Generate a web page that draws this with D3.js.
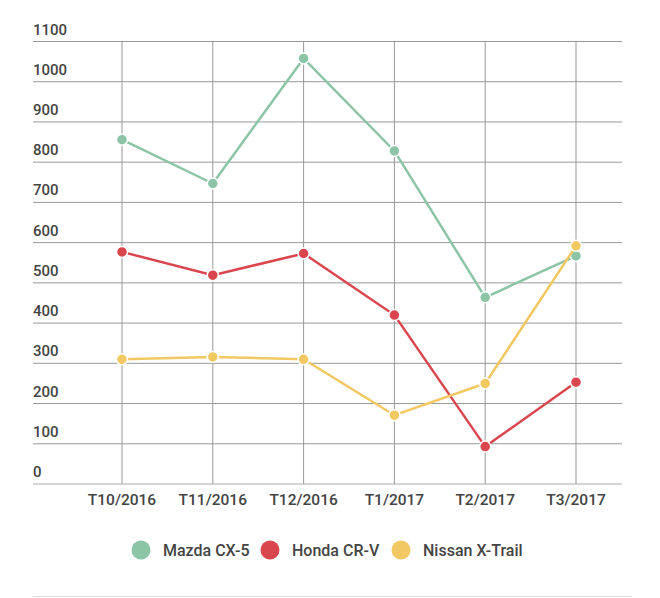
<!DOCTYPE html>
<html>
<head>
<meta charset="utf-8">
<script src="https://d3js.org/d3.v7.min.js"></script>
<style>
  body { margin: 0; background: #fff; }
  text { font-family: Roboto, "Noto Sans", sans-serif; }
</style>
</head>
<body>
<div id="chart"></div>
<script>
// data
var months = ["T10/2016", "T11/2016", "T12/2016", "T1/2017", "T2/2017", "T3/2017"];
var mazda = [856, 747, 1058, 828, 464, 567];
var honda = [577, 519, 573, 420, 93, 253];
var nissan = [310, 316, 310, 171, 250, 592];
var seriesNames = ["Mazda CX-5", "Honda CR-V", "Nissan X-Trail"];
var seriesColors = ["#8cc4a6", "#d9464e", "#f1c862"];
var yTicks = [0, 100, 200, 300, 400, 500, 600, 700, 800, 900, 1000, 1100];

var series = [mazda, honda, nissan];

var width = 660, height = 598;
var gridLeft = 33, gridRight = 622, gridTop = 41.5, gridBottom = 484;

var svg = d3.select("#chart")
  .append("svg")
  .attr("width", width)
  .attr("height", height);

var x = d3.scalePoint()
  .domain(months)
  .range([122, 576]);

var y = d3.scaleLinear()
  .domain([0, 1100])
  .range([gridBottom, gridTop]);

// horizontal grid + labels
svg.selectAll("line.h")
  .data(yTicks)
  .enter()
  .append("line")
  .attr("class", "h")
  .attr("x1", gridLeft)
  .attr("x2", gridRight)
  .attr("y1", function(d) { return y(d); })
  .attr("y2", function(d) { return y(d); })
  .attr("stroke", function(d) { return d === 0 ? "#aaa" : "#999"; })
  .attr("stroke-width", 1);

svg.selectAll("text.ylab")
  .data(yTicks)
  .enter()
  .append("text")
  .attr("class", "ylab")
  .attr("x", gridLeft)
  .attr("y", function(d) { return y(d) - 7; })
  .attr("font-size", 15)
  .attr("font-weight", 500)
  .attr("fill", "#444")
  .text(function(d) { return d; });

// vertical grid
svg.selectAll("line.v")
  .data(months)
  .enter()
  .append("line")
  .attr("class", "v")
  .attr("x1", function(d) { return x(d); })
  .attr("x2", function(d) { return x(d); })
  .attr("y1", gridTop)
  .attr("y2", gridBottom)
  .attr("stroke", "#999")
  .attr("stroke-width", 1);

svg.selectAll("text.xlab")
  .data(months)
  .enter()
  .append("text")
  .attr("class", "xlab")
  .attr("x", function(d) { return x(d); })
  .attr("y", 505)
  .attr("text-anchor", "middle")
  .attr("font-size", 15.5)
  .attr("font-weight", 500)
  .attr("fill", "#444")
  .text(function(d) { return d; });

var line = d3.line()
  .x(function(d, i) { return x(months[i]); })
  .y(function(d) { return y(d); });

series.forEach(function(values, s) {
  var g = svg.append("g");
  g.append("path")
    .datum(values)
    .attr("d", line)
    .attr("fill", "none")
    .attr("stroke", seriesColors[s])
    .attr("stroke-width", 2.5);
  g.selectAll("circle")
    .data(values)
    .enter()
    .append("circle")
    .attr("cx", function(d, i) { return x(months[i]); })
    .attr("cy", function(d) { return y(d); })
    .attr("r", 5.5)
    .attr("fill", seriesColors[s])
    .attr("stroke", "#fff")
    .attr("stroke-width", 1.5);
});

// legend
var legendX = [141, 270, 401];
var legend = svg.selectAll("g.leg")
  .data(seriesNames)
  .enter()
  .append("g")
  .attr("class", "leg")
  .attr("transform", function(d, i) { return "translate(" + legendX[i] + ",550)"; });

legend.append("circle")
  .attr("r", 9.5)
  .attr("fill", function(d, i) { return seriesColors[i]; });

legend.append("text")
  .attr("x", 22)
  .attr("y", 5.5)
  .attr("font-size", 16)
  .attr("font-weight", 500)
  .attr("fill", "#444")
  .text(function(d) { return d; });

// bottom rule
svg.append("line")
  .attr("x1", gridLeft)
  .attr("x2", 632)
  .attr("y1", 596.5)
  .attr("y2", 596.5)
  .attr("stroke", "#ddd")
  .attr("stroke-width", 1);
</script>
</body>
</html>
